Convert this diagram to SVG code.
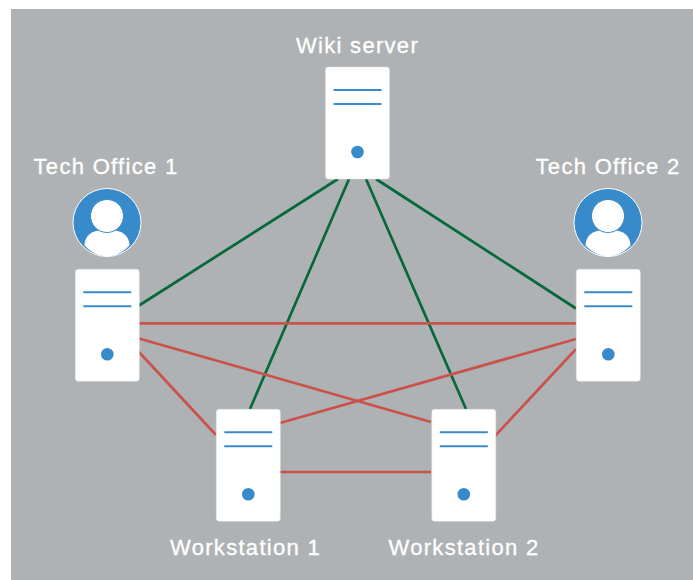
<svg xmlns="http://www.w3.org/2000/svg" width="693" height="580" viewBox="0 0 693 580">
<style>
.bg{fill:#afb2b4}
.case{fill:#fff;stroke:#dfe0e1;stroke-width:.5}
.bar{stroke:#388bcb;stroke-width:2;fill:none}
.led{fill:#388bcb}
.g{stroke:#05693c;stroke-width:2.7;fill:none}
.r{stroke:#c9534a;stroke-width:2.7;fill:none}
.lbl{font-family:"Liberation Sans",Arial,sans-serif;font-size:22px;fill:#fff;stroke:#fff;stroke-width:.3;text-anchor:middle;letter-spacing:1.3px}
.av{fill:#388bcb;stroke:#fff;stroke-width:1}
.w{fill:#fff}
.head{fill:#fff;stroke:#388bcb;stroke-width:1}
</style>
<defs>
<g id="srv">
<rect class="case" x="0" y="0" width="64" height="112" rx="3"/>
<path class="bar" d="M8 23H56M8 37H56"/>
<circle class="led" cx="32" cy="85" r="6.300"/>
</g>
<g id="user">
<circle class="av" cx="0" cy="0" r="34"/>
<path class="w" d="M-22.500 23C-22.500 13-14 8-7 8H7C14 8 22.500 13 22.500 23C16 30 8 34 0 34S-16 30-22.500 23Z"/>
<circle class="head" cx="0" cy="-6.500" r="16.500"/>
</g>
</defs>
<rect class="bg" x="11" y="9" width="682" height="571"/>
<g id="connectors">
<path class="g" d="M139 305.500L338 179M250 409L349 179M466 409L366 179M576 308.500L376 179"/>
<path class="r" d="M139 323.300H576M139 338.500L431 422M139 352L216 435M280 423L576 339M280 472H431M495 436L576 349"/>
</g>
<g id="wiki-server"><use href="#srv" x="325.500" y="67"/><text class="lbl" x="357.500" y="53">Wiki server</text></g>
<g id="tech-office-1"><use href="#srv" x="75.300" y="269.300"/><use href="#user" x="107" y="222.500"/><text class="lbl" x="106" y="174">Tech Office 1</text></g>
<g id="tech-office-2"><use href="#srv" x="576.300" y="269.300"/><use href="#user" x="608" y="222.500"/><text class="lbl" x="608" y="174">Tech Office 2</text></g>
<g id="workstation-1"><use href="#srv" x="216.300" y="409.300"/><text class="lbl" x="245.500" y="555">Workstation 1</text></g>
<g id="workstation-2"><use href="#srv" x="431.800" y="409.300"/><text class="lbl" x="464" y="555">Workstation 2</text></g>
</svg>
